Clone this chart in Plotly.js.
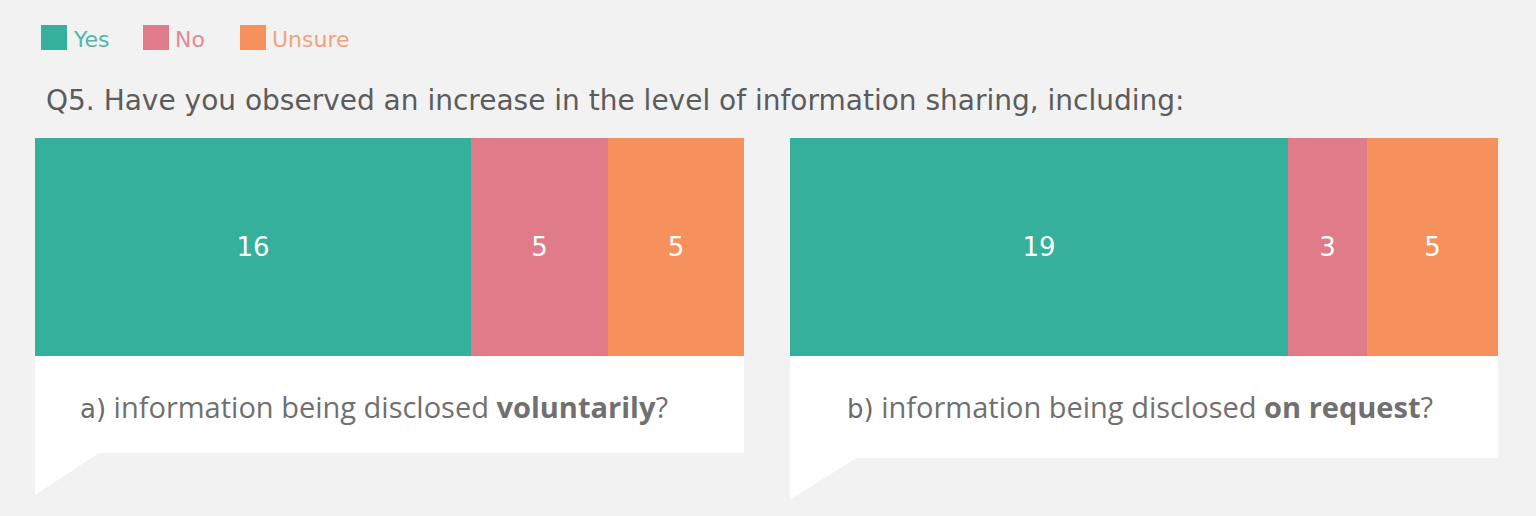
<!DOCTYPE html>
<html>
<head>
<meta charset="utf-8">
<script src="https://cdn.plot.ly/plotly-3.0.1.min.js"></script>
<style>
  html, body { margin: 0; padding: 0; background: #f2f2f2; }
  #chart { width: 1536px; height: 516px; }
</style>
</head>
<body>
<div id="chart"></div>
<script>
var W = 1536;
var H = 516;

// data
var categories = ['Yes', 'No', 'Unsure'];
var yesCounts = [16, 19];
var noCounts = [5, 3];
var unsureCounts = [5, 5];
var captionLead = ['a)', 'b)'];
var captionText = ['information being disclosed', 'information being disclosed'];
var captionBold = ['voluntarily', 'on request'];
var titleText = 'Q5. Have you observed an increase in the level of information sharing, including:';

var barColors = ['#34b09c', '#e07b8a', '#f6905c'];
var legendTextColors = ['#4fb8a6', '#e08a96', '#f2a27c'];
var wideFont = '"DejaVu Sans", Verdana, sans-serif';
var captionFont = '"Open Sans", Lato, sans-serif';

function px(x) {
  return x / W;
}

function py(y) {
  return 1 - y / H;
}

// panel boxes in pixels
var panels = [
  { x0: 35, x1: 744, tail: 99, boxBottom: 453, tip: 495, cx: 374 },
  { x0: 790, x1: 1498, tail: 856, boxBottom: 458, tip: 500, cx: 1140 }
];
var barTop = 138;
var barBottom = 356;

var seriesValues = [yesCounts, noCounts, unsureCounts];

var traces = [];
panels.forEach(function (panel, p) {
  var suffix = p === 0 ? '' : '2';
  categories.forEach(function (cat, c) {
    var v = seriesValues[c][p];
    traces.push({
      type: 'bar',
      orientation: 'h',
      name: cat,
      x: [v],
      y: ['q'],
      xaxis: 'x' + suffix,
      yaxis: 'y' + suffix,
      text: [String(v)],
      textposition: 'inside',
      insidetextanchor: 'middle',
      textangle: 0,
      constraintext: 'none',
      textfont: {
        family: wideFont,
        size: 26,
        color: '#ffffff'
      },
      marker: {
        color: barColors[c],
        line: { width: 0 }
      },
      hoverinfo: 'name+x',
      showlegend: false
    });
  });
});

function panel_total(p) {
  return yesCounts[p] + noCounts[p] + unsureCounts[p];
}

function make_xaxis(p) {
  return {
    domain: [px(panels[p].x0), px(panels[p].x1)],
    range: [0, panel_total(p)],
    showgrid: false,
    zeroline: false,
    showticklabels: false,
    ticks: '',
    showline: false,
    fixedrange: true
  };
}

function make_yaxis(p) {
  return {
    domain: [py(barBottom), py(barTop)],
    range: [-0.5, 0.5],
    showgrid: false,
    zeroline: false,
    showticklabels: false,
    ticks: '',
    showline: false,
    fixedrange: true,
    anchor: p === 0 ? 'x' : 'x2'
  };
}

var shapes = [];
var annotations = [];

// white callout boxes under the bars
panels.forEach(function (panel) {
  var path = 'M' + px(panel.x0) + ',' + py(barBottom) +
    ' L' + px(panel.x1) + ',' + py(barBottom) +
    ' L' + px(panel.x1) + ',' + py(panel.boxBottom) +
    ' L' + px(panel.tail) + ',' + py(panel.boxBottom) +
    ' L' + px(panel.x0) + ',' + py(panel.tip) + ' Z';
  shapes.push({
    type: 'path',
    xref: 'paper',
    yref: 'paper',
    path: path,
    fillcolor: '#ffffff',
    line: { width: 0 },
    layer: 'below'
  });
});

panels.forEach(function (panel, p) {
  annotations.push({
    xref: 'paper',
    yref: 'paper',
    x: px(panel.cx),
    y: py(406),
    xanchor: 'center',
    yanchor: 'middle',
    showarrow: false,
    text: '<span style="font-family:' + "'DejaVu Sans'" + ';font-size:26px;color:#6b6b6b">' +
      captionLead[p] + '</span> ' + captionText[p] + ' <b>' + captionBold[p] + '</b>?',
    font: { family: captionFont, size: 29, color: '#707070' }
  });
});

// legend: squares + labels
var legendX = [41, 143, 240];
categories.forEach(function (cat, c) {
  shapes.push({
    type: 'rect',
    xref: 'paper',
    yref: 'paper',
    x0: px(legendX[c]),
    x1: px(legendX[c] + 26),
    y0: py(50),
    y1: py(25),
    fillcolor: barColors[c],
    line: { width: 0 }
  });
  annotations.push({
    xref: 'paper',
    yref: 'paper',
    x: px(legendX[c] + 30),
    y: py(39),
    xanchor: 'left',
    yanchor: 'middle',
    showarrow: false,
    text: cat,
    font: { family: wideFont, size: 22, color: legendTextColors[c] }
  });
});

annotations.push({
  xref: 'paper',
  yref: 'paper',
  x: px(44),
  y: py(100),
  xanchor: 'left',
  yanchor: 'middle',
  showarrow: false,
  text: titleText,
  font: { family: wideFont, size: 28, color: '#5c5c5c' }
});

var layout = {
  width: W,
  height: H,
  margin: { l: 0, r: 0, t: 0, b: 0, pad: 0 },
  paper_bgcolor: '#f2f2f2',
  plot_bgcolor: 'rgba(0,0,0,0)',
  barmode: 'stack',
  bargap: 0,
  showlegend: false,
  font: { family: wideFont, color: '#5c5c5c' },
  xaxis: make_xaxis(0),
  xaxis2: make_xaxis(1),
  yaxis: make_yaxis(0),
  yaxis2: make_yaxis(1),
  shapes: shapes,
  annotations: annotations
};

var config = {
  responsive: false,
  displayModeBar: false
};

Plotly.newPlot('chart', traces, layout, config);
</script>
</body>
</html>
